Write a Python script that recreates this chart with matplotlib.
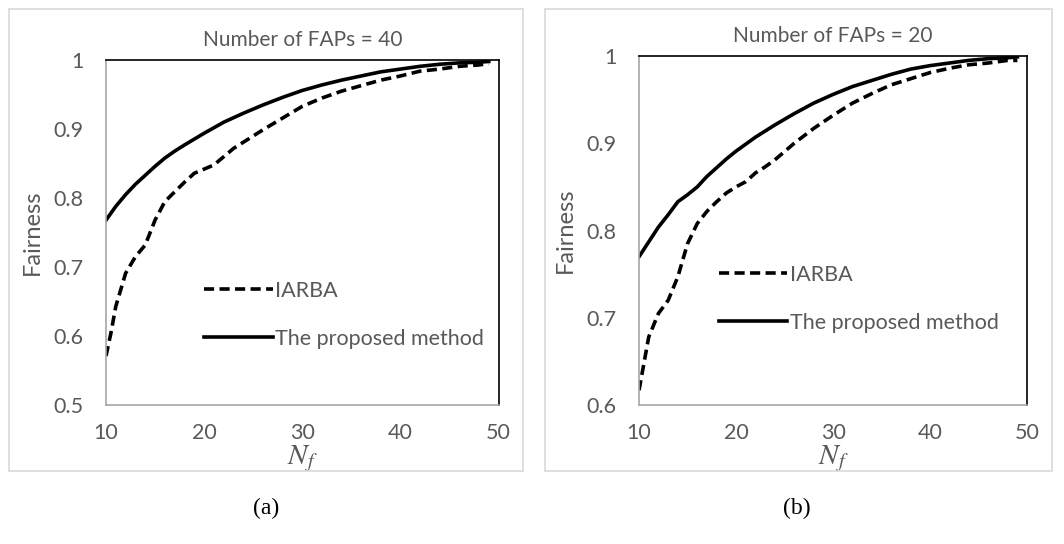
import numpy as np
import matplotlib.pyplot as plt
from matplotlib.patches import Rectangle

# Panel (a): number of FAPs = 40
x_a = [10, 10.5, 11, 12, 13, 14, 15, 16, 17, 18, 19, 20, 21, 22, 23, 24, 26, 28, 30,
       32, 34, 36, 38, 40, 42, 44, 46, 48, 49]
iarba_a = [0.571, 0.604, 0.643, 0.691, 0.715, 0.732, 0.768, 0.795, 0.809, 0.823, 0.836,
           0.842, 0.848, 0.860, 0.872, 0.881, 0.899, 0.916, 0.933, 0.945, 0.955, 0.963,
           0.971, 0.977, 0.984, 0.987, 0.991, 0.993, 0.995]
xs_a = [10, 11, 12, 13, 14, 15, 16, 17, 18, 20, 22, 24, 26, 28, 30, 32, 34, 36, 38, 40,
        42, 44, 46, 48, 49]
proposed_a = [0.768, 0.788, 0.805, 0.820, 0.833, 0.846, 0.858, 0.868, 0.877, 0.894, 0.910,
              0.923, 0.935, 0.946, 0.956, 0.964, 0.971, 0.977, 0.983, 0.987, 0.991, 0.994,
              0.996, 0.997, 0.998]

# Panel (b): number of FAPs = 20
x_b = [10, 11, 12, 13, 14, 15, 16, 17, 18, 19, 20, 21, 22, 23, 24, 26, 28, 30, 32, 34,
       36, 38, 40, 42, 44, 46, 48, 49]
iarba_b = [0.617, 0.678, 0.705, 0.720, 0.747, 0.785, 0.808, 0.822, 0.833, 0.843, 0.850,
           0.856, 0.866, 0.873, 0.881, 0.900, 0.917, 0.932, 0.946, 0.957, 0.967, 0.974,
           0.981, 0.986, 0.990, 0.992, 0.995, 0.995]
xs_b = [10, 11, 12, 13, 14, 15, 16, 17, 18, 19, 20, 22, 24, 26, 28, 30, 32, 34, 36, 38,
        40, 42, 44, 46, 48, 49]
proposed_b = [0.770, 0.787, 0.804, 0.818, 0.833, 0.841, 0.850, 0.862, 0.872, 0.882, 0.891,
              0.907, 0.921, 0.934, 0.946, 0.956, 0.965, 0.972, 0.979, 0.985, 0.989, 0.992,
              0.995, 0.997, 0.998, 0.999]

titles = ['Number of FAPs = 40', 'Number of FAPs = 20']
captions = ['(a)', '(b)']
ylims = [(0.5, 1.0), (0.6, 1.0)]
yticks = [[0.5, 0.6, 0.7, 0.8, 0.9, 1.0], [0.6, 0.7, 0.8, 0.9, 1.0]]
xticks = [10, 20, 30, 40, 50]

plt.rcParams['font.family'] = ['Lato', 'DejaVu Sans']
plt.rcParams['mathtext.fontset'] = 'stix'
grey = '#595959'

fig = plt.figure(figsize=(10.64, 5.44), dpi=100)
fig.patch.set_facecolor('white')

# outer chart frames
for x0, w in [(0.0085, 0.4831), (0.5122, 0.4765)]:
    fig.add_artist(Rectangle((x0, 0.134), w, 0.849, transform=fig.transFigure,
                             fill=False, edgecolor='#d9d9d9', linewidth=1.2))

positions = [[0.0996, 0.2555, 0.369, 0.634], [0.6006, 0.2555, 0.3647, 0.6415]]
data = [(x_a, iarba_a, xs_a, proposed_a), (x_b, iarba_b, xs_b, proposed_b)]
legend_pos = [(0.25, 0.262), (0.205, 0.304)]
centers = [0.25, 0.749]

for i in range(2):
    ax = fig.add_axes(positions[i])
    xd, yd, xs, ys = data[i]
    ax.plot(xd, yd, color='black', linewidth=2.6, linestyle=(0, (2.8, 1.5)), label='IARBA')
    ax.plot(xs, ys, color='black', linewidth=2.6, label='The proposed method')
    ax.set_xlim(10, 50)
    ax.set_ylim(*ylims[i])
    ax.set_xticks(xticks)
    ax.set_yticks(yticks[i])
    ax.set_yticklabels(['1' if v == 1.0 else f'{v:.1f}' for v in yticks[i]])
    ax.tick_params(axis='x', length=0, labelsize=15.5, labelcolor=grey, pad=13)
    ax.tick_params(axis='y', length=0, labelsize=15.5, labelcolor=grey, pad=16)
    for s in ['left', 'bottom']:
        ax.spines[s].set_color('#a6a6a6')
        ax.spines[s].set_linewidth(1.2)
    for s in ['top', 'right']:
        ax.spines[s].set_color('black')
        ax.spines[s].set_linewidth(1.2)
    ax.set_title(titles[i], fontsize=15, color=grey, pad=10)
    ax.set_ylabel('Fairness', fontsize=17, color=grey, labelpad=8)
    ax.set_xlabel('$N_f$', fontsize=21, color=grey, labelpad=0)
    leg = ax.legend(loc='center left', bbox_to_anchor=legend_pos[i], frameon=False,
                    fontsize=15.5, handlelength=3.2, handletextpad=0.1, labelspacing=1.3,
                    borderaxespad=0, borderpad=0)
    for t in leg.get_texts():
        t.set_color(grey)
    fig.text(centers[i], 0.066, captions[i], ha='center', va='center',
             fontsize=17, family='Liberation Serif')

plt.savefig('out.png', dpi=100)
